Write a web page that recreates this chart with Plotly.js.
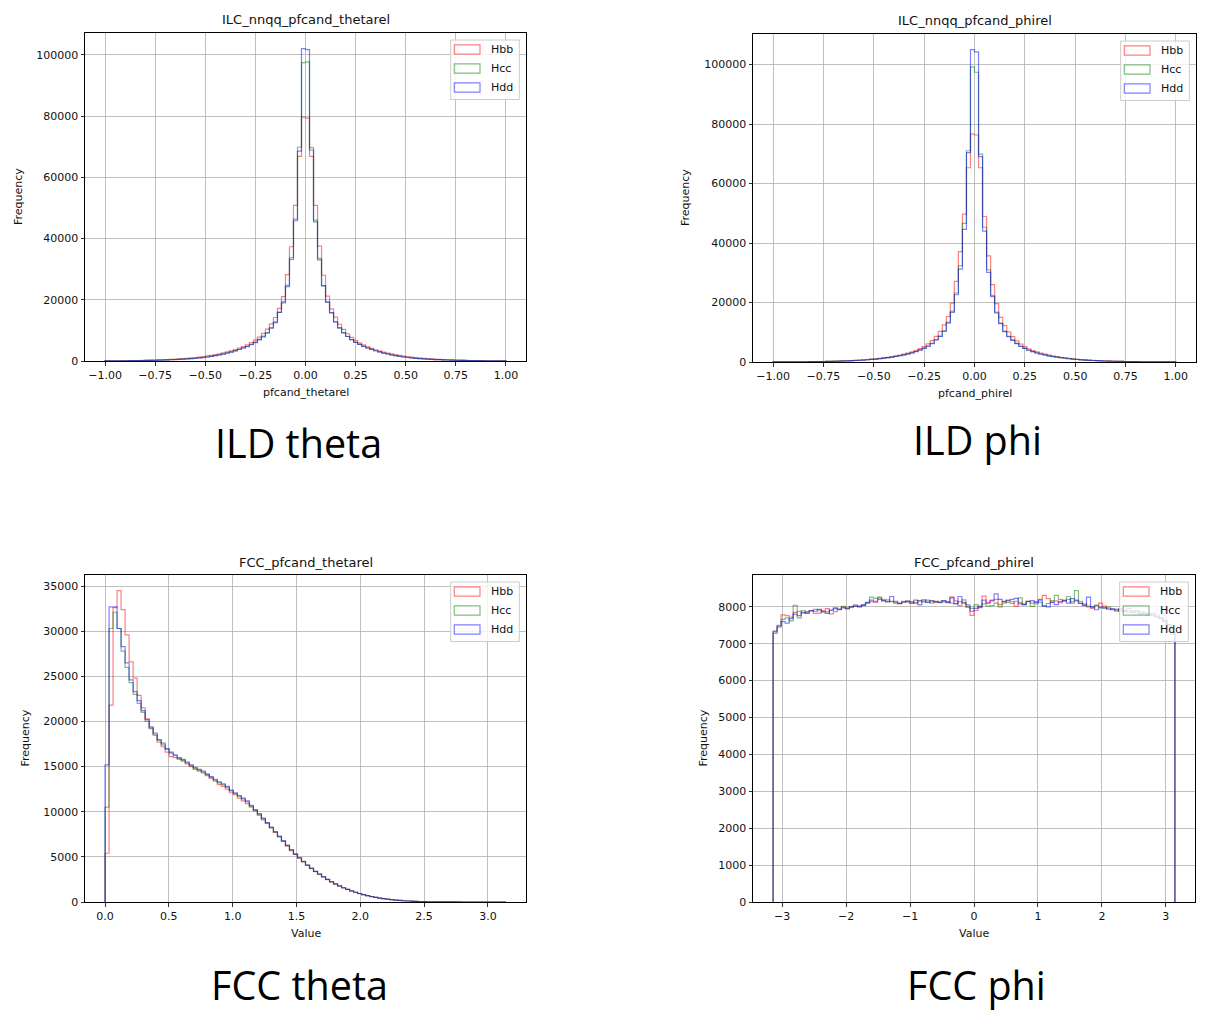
<!DOCTYPE html>
<html>
<head>
<meta charset="utf-8">
<script src="https://cdn.plot.ly/plotly-3.0.1.min.js"></script>
<style>
  html, body { margin: 0; padding: 0; background: #ffffff; }
  #chart { width: 1209px; height: 1017px; }
</style>
</head>
<body>
<div id="chart"></div>
<script>
// ---------------- Series ----------------
const seriesNames = ['Hbb', 'Hcc', 'Hdd'];
const seriesColors = ['rgba(255,0,0,0.5)', 'rgba(0,128,0,0.5)', 'rgba(0,0,255,0.5)'];

// ---------------- ILD theta: 100 bins on [-1, 1] ----------------
const ildThetaHbb = [25,36,48,62,78,95,115,140,165,195,230,270,310,360,410,470,540,610,690,780,880,1000,1130,1280,1450,1650,1850,2100,2350,2650,2950,3300,3700,4200,4700,5300,6000,6800,7800,9000,10400,12100,14200,17200,21000,28200,37300,50800,66800,79600,
  79300,66800,50800,37500,28000,21200,17000,14300,12000,10300,8900,7700,6750,5950,5250,4650,4150,3680,3280,2920,2620,2330,2080,1840,1630,1440,1270,1120,990,870,770,680,600,530,465,405,355,305,265,228,192,163,138,114,94,76,60,46,34,24];
const ildThetaHcc = [18,27,37,48,61,76,92,110,130,153,180,210,245,283,325,372,425,485,550,620,700,790,890,1010,1160,1340,1540,1770,2030,2320,2630,2980,3380,3830,4330,4850,5450,6150,7050,8100,9300,10900,12800,15900,19400,24800,33800,46300,69800,97400,
  97700,69700,46000,33500,24600,19300,15700,12900,10800,9250,8050,7000,6100,5400,4800,4280,3800,3350,2950,2600,2300,2010,1750,1530,1330,1150,1000,880,780,690,610,540,475,420,365,320,278,240,206,176,150,127,107,89,73,58,45,34,24,16];
const ildThetaHdd = [17,26,36,47,60,74,90,108,128,150,175,205,240,275,315,360,410,470,530,600,680,770,870,990,1130,1300,1500,1730,1980,2250,2550,2900,3300,3750,4200,4700,5300,6000,6900,7900,9100,10700,12500,15900,19000,24300,33200,45800,68500,102000,
  101700,68900,45400,33000,24500,19200,15800,12700,10800,9200,8000,7000,6100,5400,4800,4300,3800,3350,2950,2600,2300,2000,1750,1520,1320,1150,1000,880,780,690,610,540,480,420,370,320,280,240,210,180,150,130,110,90,75,60,45,35,25,15];

// ---------------- ILD phi: 100 bins on [-1, 1] ----------------
const ildPhiHbb = [11,16,23,31,40,50,61,74,89,106,126,148,173,202,235,272,315,365,420,480,550,630,720,820,940,1070,1220,1390,1580,1800,2050,2330,2650,3000,3400,3900,4500,5200,6100,7200,8600,10300,12500,15300,19800,27100,37100,49700,65300,76600,
  76300,65300,48900,35700,26000,19600,15000,12200,10100,8500,7100,6050,5150,4450,3860,3370,2970,2620,2300,2030,1780,1560,1370,1200,1050,925,810,710,620,540,472,412,358,310,268,231,198,170,145,123,104,87,72,60,49,39,30,22,15,10];
const ildPhiHcc = [12,17,24,32,41,51,63,76,91,107,126,147,171,197,227,262,302,348,398,455,515,585,665,760,870,990,1130,1290,1460,1660,1870,2120,2420,2720,3080,3530,4050,4650,5350,6300,7500,8700,10500,13400,17100,23200,32300,46600,71000,99200,
  97400,69900,45300,31000,22400,16800,13100,10400,8650,7450,6250,5300,4600,4000,3490,3050,2690,2390,2090,1850,1640,1440,1270,1110,975,855,748,655,575,505,446,390,341,296,257,222,193,167,144,123,104,89,74,61,50,40,31,23,16,11];
const ildPhiHdd = [12,17,24,32,40,50,62,75,90,105,125,145,170,195,225,260,300,345,395,450,510,580,660,750,860,980,1120,1280,1450,1650,1850,2100,2400,2700,3050,3500,4000,4600,5300,6200,7400,8600,10300,13100,16700,22600,31200,44600,70400,105000,
  104250,69000,44000,30100,22000,16500,12900,10200,8500,7300,6150,5250,4550,3950,3460,3020,2670,2370,2080,1830,1630,1430,1260,1100,965,845,740,650,570,500,440,385,338,294,255,221,191,166,142,122,103,88,73,60,49,39,31,23,16,11];

// ---------------- FCC theta: 100 bins on [0, pi] ----------------
const fccThetaHbb = [5400,21800,32600,34500,32400,29600,26600,24800,22900,21500,
  20300,19300,18500,17700,17200,16600,16100,16000,15800,15600,
  15300,15000,14700,14500,14300,14000,13700,13400,13000,12800,
  12500,12100,11900,11500,11200,10900,10500,10100,9600,9100,
  8700,8200,7700,7200,6700,6200,5700,5300,4850,4450,
  4050,3700,3370,3060,2770,2480,2230,1990,1770,1570,
  1390,1220,1070,930,810,700,600,515,435,365,
  305,255,210,172,138,110,87,67,52,40,
  30,23,17,13,10,7,5,4,3,2,
  2,1,1,0,0,0,0,0,0,0];
const fccThetaHcc = [10500,30300,32100,30300,27800,26000,24300,23000,22000,21000,
  20000,19200,18500,17900,17400,16900,16500,16200,15900,15700,
  15400,15100,14800,14600,14400,14100,13800,13500,13200,13000,
  12700,12300,12000,11700,11400,11100,10600,10200,9700,9200,
  8750,8250,7750,7250,6750,6250,5750,5300,4880,4480,
  4080,3720,3390,3080,2790,2500,2240,2000,1780,1580,
  1400,1230,1080,940,815,705,605,518,438,368,
  308,257,212,173,139,111,87,67,51,39,
  29,22,16,12,9,7,5,3,2,2,
  1,1,0,0,0,0,0,0,0,0];
const fccThetaHdd = [15200,32700,32700,30300,28300,26500,24600,23300,22300,21200,
  20200,19400,18700,18000,17600,17000,16600,16300,16000,15800,
  15500,15200,14900,14700,14500,14200,13900,13600,13300,13100,
  12800,12400,12100,11800,11500,11200,10700,10200,9800,9300,
  8800,8300,7800,7300,6800,6300,5800,5300,4900,4500,
  4100,3750,3400,3100,2800,2500,2250,2000,1780,1580,
  1400,1230,1080,940,820,710,610,520,440,370,
  310,260,215,175,140,112,88,68,52,40,
  30,23,17,13,10,7,5,4,3,2,
  2,1,1,1,0,0,0,0,0,0];

// ---------------- FCC phi: 100 bins on [-pi, pi] ----------------
const fccPhiHbb = [7280,7450,7780,7760,7720,7850,7880,7830,7870,7900,
  7820,7830,7900,7950,7810,7870,7920,7990,7960,8000,
  8020,7990,8040,8090,8140,8120,8260,8200,8190,8150,
  8100,8080,8120,8140,8120,8100,8170,8150,8130,8160,
  8120,8150,8130,8110,8270,8160,8030,8120,7990,7770,
  7900,8020,8290,8120,8180,8200,8060,8100,8170,8140,
  8010,8120,8080,8150,8100,8140,8200,8310,8220,8130,
  8160,8110,8180,8200,8140,8160,8090,8050,8000,7960,
  8040,8100,8020,7940,7920,7880,7950,7870,7900,7840,
  7880,7800,7830,7760,7780,7720,7680,7600,7480,7250];
const fccPhiHcc = [7320,7500,7660,7700,7620,8040,7700,7900,7840,7880,
  7930,7910,7870,7860,7920,7980,7940,8010,7970,8000,
  8050,8020,8030,8110,8260,8230,8240,8160,8130,8140,
  8120,8090,8150,8130,8140,8110,8160,8130,8180,8100,
  8150,8120,8160,8140,8100,8090,8140,8190,8000,7960,
  8060,7980,8080,8020,8030,8100,8000,8150,8120,8090,
  8150,8240,8060,8140,8010,8080,8120,8030,8090,8170,
  8310,8200,8150,8280,8100,8440,8150,8080,8020,7990,
  8040,7970,7960,7990,7920,7900,7940,7870,7850,7880,
  7840,7860,7800,7810,7760,7780,7700,7640,7520,7310];
const fccPhiHdd = [7340,7480,7600,7560,7680,7800,7760,7850,7820,7900,
  7880,7930,7860,7820,7900,7950,7930,7970,7940,8000,
  8020,8010,8060,8120,8180,8150,8200,8170,8140,8280,
  8150,8100,8130,8160,8090,8180,8050,8190,8120,8160,
  8140,8110,8170,8120,8240,8080,8280,8100,8050,7880,
  7960,8000,8180,8090,8160,8350,8200,8140,8180,8200,
  8230,8080,8060,8150,8170,8120,8180,8020,8000,8120,
  8060,8140,8170,8100,8220,8180,8100,8030,8260,8000,
  7920,7990,7980,7940,7950,7930,7880,7900,7960,7860,
  7900,7820,7850,7780,7820,7740,7700,7620,7520,7300];

// ---------------- Tick labels ----------------
const ildXTicks = [-1, -0.75, -0.5, -0.25, 0, 0.25, 0.5, 0.75, 1];
const ildXTickText = ['\u22121.00', '\u22120.75', '\u22120.50', '\u22120.25', '0.00', '0.25', '0.50', '0.75', '1.00'];
const ildYTicks = [0, 20000, 40000, 60000, 80000, 100000];
const ildYTickText = ['0', '20000', '40000', '60000', '80000', '100000'];
const thetaXTicks = [0, 0.5, 1, 1.5, 2, 2.5, 3];
const thetaXTickText = ['0.0', '0.5', '1.0', '1.5', '2.0', '2.5', '3.0'];
const thetaYTicks = [0, 5000, 10000, 15000, 20000, 25000, 30000, 35000];
const thetaYTickText = ['0', '5000', '10000', '15000', '20000', '25000', '30000', '35000'];
const phiXTicks = [-3, -2, -1, 0, 1, 2, 3];
const phiXTickText = ['\u22123', '\u22122', '\u22121', '0', '1', '2', '3'];
const phiYTicks = [0, 1000, 2000, 3000, 4000, 5000, 6000, 7000, 8000];
const phiYTickText = ['0', '1000', '2000', '3000', '4000', '5000', '6000', '7000', '8000'];

// ---------------- Page geometry ----------------
const W = 1209, H = 1017;
const PI = Math.PI;

const panels = [
  { ax: '', box: [85, 33, 526, 361], lo: -1, hi: 1, counts: [ildThetaHbb, ildThetaHcc, ildThetaHdd],
    xt: ildXTicks, xtt: ildXTickText, yt: ildYTicks, ytt: ildYTickText,
    title: 'ILC_nnqq_pfcand_thetarel', xlabel: 'pfcand_thetarel', ylabX: 18, caption: 'ILD theta', capX: 298, capY: 443 },
  { ax: '2', box: [753, 34, 1196, 362], lo: -1, hi: 1, counts: [ildPhiHbb, ildPhiHcc, ildPhiHdd],
    xt: ildXTicks, xtt: ildXTickText, yt: ildYTicks, ytt: ildYTickText,
    title: 'ILC_nnqq_pfcand_phirel', xlabel: 'pfcand_phirel', ylabX: 686, caption: 'ILD phi', capX: 977, capY: 440 },
  { ax: '3', box: [85, 575, 526, 902], lo: 0, hi: PI, counts: [fccThetaHbb, fccThetaHcc, fccThetaHdd],
    xt: thetaXTicks, xtt: thetaXTickText, yt: thetaYTicks, ytt: thetaYTickText,
    title: 'FCC_pfcand_thetarel', xlabel: 'Value', ylabX: 25, caption: 'FCC theta', capX: 299, capY: 985 },
  { ax: '4', box: [753, 575, 1195, 902], lo: -PI, hi: PI, counts: [fccPhiHbb, fccPhiHcc, fccPhiHdd],
    xt: phiXTicks, xtt: phiXTickText, yt: phiYTicks, ytt: phiYTickText,
    title: 'FCC_pfcand_phirel', xlabel: 'Value', ylabX: 703, caption: 'FCC phi', capX: 976, capY: 985 }
];

const textFont = 'DejaVu Sans, Verdana, sans-serif';
const textColor = '#111111';

function binEdges(lo, hi, n) {
  const e = [];
  for (let i = 0; i <= n; i++) e.push(lo + (hi - lo) * i / n);
  return e;
}

// Outline of a step histogram: up from 0 at the first edge, across each bin, back down at the last edge
function stepOutline(edges, counts) {
  const xs = [edges[0]], ys = [0];
  for (let i = 0; i < counts.length; i++) { xs.push(edges[i]); ys.push(counts[i]); }
  xs.push(edges[edges.length - 1]); ys.push(counts[counts.length - 1]);
  xs.push(edges[edges.length - 1]); ys.push(0);
  return { xs, ys };
}

const px = x => x / W;
const py = y => 1 - y / H;

const traces = [];
const layout = {
  width: W, height: H,
  margin: { l: 0, r: 0, t: 0, b: 0 },
  paper_bgcolor: '#ffffff', plot_bgcolor: '#ffffff',
  showlegend: false,
  annotations: [], shapes: []
};

function annotate(text, x, y, size, extra) {
  layout.annotations.push(Object.assign({
    text, x: px(x), y: py(y), xref: 'paper', yref: 'paper',
    showarrow: false, xanchor: 'center', yanchor: 'middle',
    font: { family: textFont, size, color: textColor }
  }, extra || {}));
}

panels.forEach(p => {
  const [l, t, r, b] = p.box;
  const xa = 'x' + p.ax, ya = 'y' + p.ax;
  const n = p.counts[0].length;
  const edges = binEdges(p.lo, p.hi, n);
  const span = p.hi - p.lo;
  let ymax = 0;
  p.counts.forEach((c, k) => {
    ymax = Math.max(ymax, ...c);
    const s = stepOutline(edges, c);
    traces.push({
      type: 'scatter', mode: 'lines', x: s.xs, y: s.ys, xaxis: xa, yaxis: ya,
      name: seriesNames[k], line: { color: seriesColors[k], width: 1.2, shape: 'hv' },
      hoverinfo: 'skip'
    });
  });

  const common = {
    showline: true, mirror: true, linecolor: '#000000', linewidth: 1,
    ticks: 'outside', ticklen: 3.5, tickwidth: 0.8, tickcolor: '#000000',
    showgrid: true, gridcolor: '#b0b0b0', gridwidth: 0.8, zeroline: false,
    tickfont: { family: textFont, size: 11, color: textColor },
    tickmode: 'array', fixedrange: true
  };
  layout['xaxis' + p.ax] = Object.assign({}, common, {
    domain: [px(l), px(r)], anchor: ya,
    range: [p.lo - 0.05 * span, p.hi + 0.05 * span],
    tickvals: p.xt, ticktext: p.xtt
  });
  layout['yaxis' + p.ax] = Object.assign({}, common, {
    domain: [py(b), py(t)], anchor: xa,
    range: [0, ymax * 1.05],
    tickvals: p.yt, ticktext: p.ytt
  });

  // titles and axis labels
  const cx = (l + r) / 2, cy = (t + b) / 2;
  annotate(p.title, cx, t - 13, 13);
  annotate(p.xlabel, cx, b + 31, 11);
  annotate('Frequency', p.ylabX, cy, 11, { textangle: -90 });
  annotate(p.caption, p.capX, p.capY, 39.5, { font: { family: 'Open Sans, Noto Sans, sans-serif', size: 39.5, color: '#000000' } });

  // legend box in the upper-right corner of each panel
  const wpx = r - l, hpx = b - t;
  const dx = v => v / wpx, dy = v => 1 - v / hpx;
  const xref = xa + ' domain', yref = ya + ' domain';
  const fr = { right: wpx - 6.7, top: 7, w: 68.6, h: 59.5 };
  const fl = fr.right - fr.w;
  layout.shapes.push({
    type: 'rect', xref, yref, layer: 'above',
    x0: dx(fl), x1: dx(fr.right), y0: dy(fr.top + fr.h), y1: dy(fr.top),
    fillcolor: 'rgba(255,255,255,0.8)', line: { color: '#cccccc', width: 1 }
  });
  seriesNames.forEach((name, k) => {
    const rowC = fr.top + 9.5 + 19 * k;
    layout.shapes.push({
      type: 'rect', xref, yref, layer: 'above',
      x0: dx(fl + 3.6), x1: dx(fl + 29.3), y0: dy(rowC + 4.6), y1: dy(rowC - 4.6),
      fillcolor: 'rgba(0,0,0,0)', line: { color: seriesColors[k], width: 1.2 }
    });
    layout.annotations.push({
      text: name, xref, yref, x: dx(fl + 38.5), y: dy(rowC),
      xanchor: 'left', yanchor: 'middle', showarrow: false,
      font: { family: textFont, size: 11, color: textColor }
    });
  });
});

Plotly.newPlot('chart', traces, layout, { staticPlot: true, displayModeBar: false });
</script>
</body>
</html>
